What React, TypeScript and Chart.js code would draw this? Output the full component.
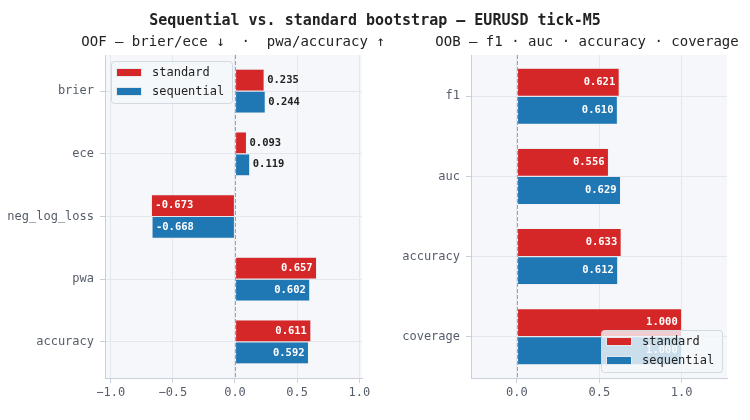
import React, { useEffect, useRef } from "react";
import { Chart, registerables } from "chart.js";

Chart.register(...registerables);

// ---- data ---------------------------------------------------------------
const SERIES_NAMES = ["standard", "sequential"];
const SERIES_COLORS = ["#d62728", "#1f77b4"];

const OOF_METRICS = ["brier", "ece", "neg_log_loss", "pwa", "accuracy"];
const OOF_STANDARD = [0.235, 0.093, -0.673, 0.657, 0.611];
const OOF_SEQUENTIAL = [0.244, 0.119, -0.668, 0.602, 0.592];
const OOF_X_TICKS = [-1.0, -0.5, 0.0, 0.5, 1.0];

const OOB_METRICS = ["f1", "auc", "accuracy", "coverage"];
const OOB_STANDARD = [0.621, 0.556, 0.633, 1.0];
const OOB_SEQUENTIAL = [0.61, 0.629, 0.612, 1.0];
const OOB_X_TICKS = [0.0, 0.5, 1.0];

const MAIN_TITLE = "Sequential vs. standard bootstrap \u2014 EURUSD tick-M5";
const OOF_TITLE = "OOF \u2014 brier/ece \u2193  \u00b7  pwa/accuracy \u2191";
const OOB_TITLE = "OOB \u2014 f1 \u00b7 auc \u00b7 accuracy \u00b7 coverage";

// ---- styling ------------------------------------------------------------
const MONO = "'DejaVu Sans Mono', monospace";
const PLOT_BG = "#f5f7fa";
const GRID = "#e4e8ee";
const SPINE = "#c9d0da";
const TICK_TEXT = "#555d69";

type Corner = "top-left" | "bottom-right";

type PanelSpec = {
  metrics: string[];
  standard: number[];
  sequential: number[];
  xTicks: number[];
  xMin: number;
  xMax: number;
  yPad: number;
  axisWidth: number;
  rightPad: number;
  legendCorner: Corner;
};

const fmtTick = (v: number) => (v < 0 ? "\u2212" : "") + Math.abs(v).toFixed(1);

function makePlugins(corner: Corner) {
  const background = {
    id: "plotBackground",
    beforeDraw(chart: any) {
      const { ctx, chartArea: a } = chart;
      ctx.save();
      ctx.fillStyle = PLOT_BG;
      ctx.fillRect(a.left, a.top, a.right - a.left, a.bottom - a.top);
      ctx.restore();
    },
  };

  const valueLabels = {
    id: "valueLabels",
    afterDatasetsDraw(chart: any) {
      const { ctx } = chart;
      ctx.save();
      ctx.font = `bold 10.5px ${MONO}`;
      ctx.textBaseline = "middle";
      chart.data.datasets.forEach((ds: any, d: number) => {
        const meta = chart.getDatasetMeta(d);
        meta.data.forEach((bar: any, i: number) => {
          const v = ds.data[i].x as number;
          const text = v.toFixed(3);
          const tw = ctx.measureText(text).width;
          const barLen = Math.abs(bar.x - bar.base);
          const neg = v < 0;
          if (barLen < tw + 8) {
            ctx.fillStyle = "#222222";
            ctx.textAlign = neg ? "right" : "left";
            ctx.fillText(text, bar.x + (neg ? -3 : 3), bar.y);
          } else {
            ctx.fillStyle = "#ffffff";
            ctx.textAlign = neg ? "left" : "right";
            ctx.fillText(text, bar.x + (neg ? 4 : -4), bar.y);
          }
        });
      });
      ctx.restore();
    },
  };

  const overlay = {
    id: "overlay",
    afterDraw(chart: any) {
      const { ctx, chartArea: a } = chart;
      // dashed reference line at zero
      const x0 = Math.round(chart.scales.x.getPixelForValue(0)) + 0.5;
      ctx.save();
      ctx.strokeStyle = "#9aa1ab";
      ctx.lineWidth = 1;
      ctx.setLineDash([4, 2]);
      ctx.beginPath();
      ctx.moveTo(x0, a.top);
      ctx.lineTo(x0, a.bottom);
      ctx.stroke();
      ctx.setLineDash([]);

      // legend box
      const w = 121;
      const h = 42;
      const bx = corner === "top-left" ? a.left + 6 : a.right - 5 - w;
      const by = corner === "top-left" ? a.top + 6 : a.bottom - 6 - h;
      ctx.beginPath();
      ctx.roundRect(bx + 0.5, by + 0.5, w, h, 3);
      ctx.fillStyle = "rgba(245,247,250,0.8)";
      ctx.fill();
      ctx.strokeStyle = "#d3d9e1";
      ctx.stroke();
      ctx.font = `12px ${MONO}`;
      ctx.textBaseline = "middle";
      ctx.textAlign = "left";
      SERIES_NAMES.forEach((name, i) => {
        const sy = by + 7 + i * 19;
        ctx.fillStyle = SERIES_COLORS[i];
        ctx.fillRect(bx + 5, sy, 26, 9);
        ctx.strokeStyle = "#e3e8ee";
        ctx.strokeRect(bx + 5.5, sy + 0.5, 25, 8);
        ctx.fillStyle = "#222222";
        ctx.fillText(name, bx + 41, sy + 4.5);
      });
      ctx.restore();
    },
  };

  return [background, valueLabels, overlay];
}

function Panel({ spec, left }: { spec: PanelSpec; left: number }) {
  const ref = useRef<HTMLCanvasElement | null>(null);

  useEffect(() => {
    if (!ref.current) return;
    const series = [spec.standard, spec.sequential];
    const chart = new Chart(ref.current, {
      type: "bar",
      data: {
        datasets: series.map((vals, s) => ({
          label: SERIES_NAMES[s],
          data: vals.map((v, i) => ({ x: v, y: i })),
          backgroundColor: SERIES_COLORS[s],
          borderColor: "#e2e7ee",
          borderWidth: 0.6,
          borderSkipped: false,
          categoryPercentage: 0.7,
          barPercentage: 1.0,
        })),
      },
      options: {
        indexAxis: "y",
        responsive: false,
        animation: false,
        events: [],
        layout: { padding: { top: 55, left: 0, right: spec.rightPad, bottom: 0 } },
        plugins: { legend: { display: false }, tooltip: { enabled: false } },
        scales: {
          x: {
            type: "linear",
            min: spec.xMin,
            max: spec.xMax,
            z: 1,
            afterBuildTicks: (s: any) => {
              s.ticks = spec.xTicks.map((v) => ({ value: v }));
            },
            afterFit: (s: any) => {
              s.height = 42;
            },
            ticks: {
              callback: (v: any) => fmtTick(Number(v)),
              font: { family: MONO, size: 12 },
              color: TICK_TEXT,
              padding: 3,
              maxRotation: 0,
            },
            grid: { color: GRID, tickColor: SPINE, tickLength: 5, drawTicks: true },
            border: { display: true, color: SPINE, width: 1 },
          },
          y: {
            type: "linear",
            reverse: true,
            offset: false,
            min: -spec.yPad,
            max: spec.metrics.length - 1 + spec.yPad,
            z: 1,
            afterBuildTicks: (s: any) => {
              s.ticks = spec.metrics.map((_, i) => ({ value: i }));
            },
            afterFit: (s: any) => {
              s.width = spec.axisWidth;
            },
            ticks: {
              callback: (v: any) => spec.metrics[Number(v)] ?? "",
              font: { family: MONO, size: 12 },
              color: TICK_TEXT,
              padding: 6,
            },
            grid: {
              offset: false,
              color: GRID,
              tickColor: SPINE,
              tickLength: 5,
              drawTicks: true,
            },
            border: { display: true, color: SPINE, width: 1 },
          },
        },
      } as any,
      plugins: makePlugins(spec.legendCorner) as any,
    });
    return () => chart.destroy();
  }, [spec]);

  return (
    <canvas
      ref={ref}
      width={375}
      height={420}
      style={{ position: "absolute", left, top: 0, width: 375, height: 420 }}
    />
  );
}

const OOF_PANEL: PanelSpec = {
  metrics: OOF_METRICS,
  standard: OOF_STANDARD,
  sequential: OOF_SEQUENTIAL,
  xTicks: OOF_X_TICKS,
  xMin: -1.046,
  xMax: 1.022,
  yPad: 0.575,
  axisWidth: 105,
  rightPad: 13,
  legendCorner: "top-left",
};

const OOB_PANEL: PanelSpec = {
  metrics: OOB_METRICS,
  standard: OOB_STANDARD,
  sequential: OOB_SEQUENTIAL,
  xTicks: OOB_X_TICKS,
  xMin: -0.279,
  xMax: 1.275,
  yPad: 0.515,
  axisWidth: 96,
  rightPad: 23,
  legendCorner: "bottom-right",
};

const textStyle = (size: number, bold: boolean): React.CSSProperties => ({
  position: "absolute",
  fontFamily: MONO,
  fontSize: size,
  fontWeight: bold ? 700 : 400,
  color: "#222222",
  lineHeight: "20px",
  textAlign: "center",
  whiteSpace: "pre",
});

export default function App() {
  return (
    <div
      style={{
        position: "fixed",
        left: 0,
        top: 0,
        width: 750,
        height: 420,
        background: "#ffffff",
        overflow: "hidden",
      }}
    >
      <Panel spec={OOF_PANEL} left={0} />
      <Panel spec={OOB_PANEL} left={375} />
      <div style={{ ...textStyle(15, true), left: 0, top: 10, width: 750 }}>{MAIN_TITLE}</div>
      <div style={{ ...textStyle(14, false), left: 33, top: 31, width: 400 }}>{OOF_TITLE}</div>
      <div style={{ ...textStyle(14, false), left: 387, top: 31, width: 400 }}>{OOB_TITLE}</div>
    </div>
  );
}
